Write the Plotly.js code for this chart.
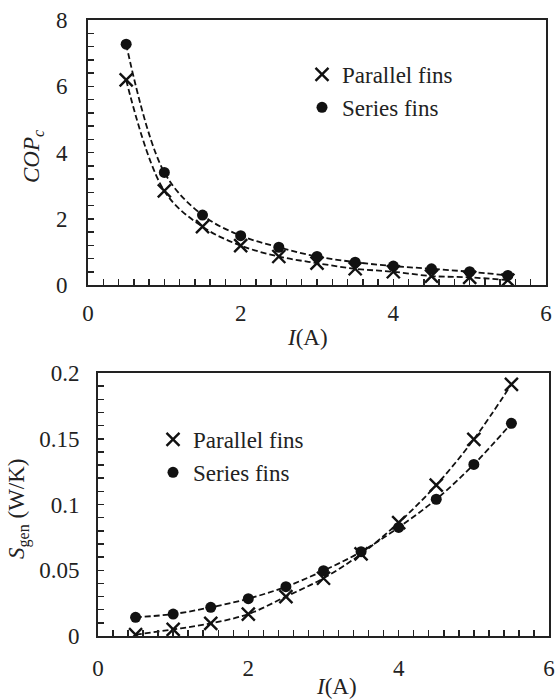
<!DOCTYPE html>
<html>
<head>
<meta charset="utf-8">
<script src="https://cdn.plot.ly/plotly-3.0.1.min.js"></script>
<style>html,body{margin:0;padding:0;background:#fff;}#chart{width:555px;height:699px;}</style>
</head>
<body>
<div id="chart"></div>
<script>
// Current (A)
var current = [0.5, 1, 1.5, 2, 2.5, 3, 3.5, 4, 4.5, 5, 5.5];
// COP_c
var copParallel = [6.19, 2.84, 1.76, 1.19, 0.86, 0.66, 0.49, 0.40, 0.27, 0.23, 0.15];
var copSeries   = [7.27, 3.40, 2.11, 1.49, 1.14, 0.86, 0.69, 0.57, 0.49, 0.40, 0.29];
// S_gen (W/K)
var sgenParallel = [0.001, 0.005, 0.0096, 0.0167, 0.030, 0.0439, 0.0624, 0.0862, 0.1148, 0.1496, 0.1914];
var sgenSeries   = [0.0142, 0.0167, 0.0218, 0.0284, 0.0375, 0.0497, 0.0641, 0.0826, 0.104, 0.1305, 0.1617];
var seriesNames = ['Parallel fins', 'Series fins'];
var axisTitles = ['<i>COP<sub>c</sub></i>', '<i>I</i>(A)', '<i>S</i><sub>gen</sub> (W/K)', '<i>I</i>(A)'];

var FONT = '"Liberation Serif", "Times New Roman", Times, serif';
var W = 555, H = 699;

function lineTrace(x, y, xa, ya) {
  return {x: x, y: y, xaxis: xa, yaxis: ya, mode: 'lines', showlegend: false, hoverinfo: 'skip',
    line: {color: '#111', width: 1.8, dash: '6px,3px', shape: 'spline', smoothing: 1}};
}
function markerTrace(x, y, xa, ya, name, sym, leg) {
  var m = sym === 'x'
    ? {symbol: 'x-thin', size: 13, color: '#111', line: {color: '#111', width: 2.4}}
    : {symbol: 'circle', size: 11, color: '#111'};
  return {x: x, y: y, xaxis: xa, yaxis: ya, mode: 'markers', name: name, marker: m, legend: leg};
}

var data = [
  lineTrace(current, copParallel, 'x', 'y'),
  lineTrace(current, copSeries, 'x', 'y'),
  markerTrace(current, copParallel, 'x', 'y', seriesNames[0], 'x', 'legend'),
  markerTrace(current, copSeries, 'x', 'y', seriesNames[1], 'o', 'legend'),
  lineTrace(current, sgenParallel, 'x2', 'y2'),
  lineTrace(current, sgenSeries, 'x2', 'y2'),
  markerTrace(current, sgenParallel, 'x2', 'y2', seriesNames[0], 'x', 'legend2'),
  markerTrace(current, sgenSeries, 'x2', 'y2', seriesNames[1], 'o', 'legend2')
];

var tf = {family: FONT, size: 23, color: '#222'};
function axBase(extra) {
  var a = {
    showgrid: false, zeroline: false, showline: true, mirror: true,
    linecolor: '#222', linewidth: 1.8,
    ticks: 'inside', ticklen: 6, tickwidth: 1.5, tickcolor: '#222',
    tickfont: tf, automargin: false, fixedrange: true
  };
  for (var k in extra) a[k] = extra[k];
  return a;
}
function minorTicks(d) {
  return {dtick: d, ticks: 'inside', ticklen: 6, tickwidth: 1.5, tickcolor: '#222'};
}
function ann(text, px, py, angle) {
  return {text: text, xref: 'paper', yref: 'paper', x: px / W, y: 1 - py / H,
    xanchor: 'center', yanchor: 'middle', showarrow: false, textangle: angle, font: tf};
}

var layout = {
  width: W, height: H,
  margin: {l: 0, r: 0, t: 0, b: 0},
  paper_bgcolor: '#fff', plot_bgcolor: '#fff',
  font: tf,
  xaxis: axBase({domain: [88/W, 546/W], anchor: 'y', range: [0, 6], dtick: 2, tick0: 0,
    minor: minorTicks(0.2), ticklabelstandoff: 7}),
  yaxis: axBase({domain: [1 - 285/H, 1 - 20/H], anchor: 'x', range: [0, 8], dtick: 2, tick0: 0,
    minor: minorTicks(0.4), ticklabelstandoff: 14}),
  xaxis2: axBase({domain: [98/W, 549/W], anchor: 'y2', range: [0, 6], dtick: 2, tick0: 0,
    minor: minorTicks(0.2), ticklabelstandoff: 11}),
  yaxis2: axBase({domain: [1 - 636/H, 1 - 373/H], anchor: 'x2', range: [0, 0.2], dtick: 0.05, tick0: 0,
    minor: minorTicks(0.01), ticklabelstandoff: 12}),
  annotations: [
    ann(axisTitles[0], 33, 157, -90),
    ann(axisTitles[1], 307, 337, 0),
    ann(axisTitles[2], 18, 509, -90),
    ann(axisTitles[3], 336, 686, 0)
  ],
  legend: {x: 310/W, y: 1 - 53/H, xanchor: 'left', yanchor: 'top', bgcolor: 'rgba(0,0,0,0)',
    font: tf, itemwidth: 30, indentation: -8, tracegroupgap: 0},
  legend2: {x: 161/W, y: 1 - 418/H, xanchor: 'left', yanchor: 'top', bgcolor: 'rgba(0,0,0,0)',
    font: tf, itemwidth: 30, indentation: -8, tracegroupgap: 0},
  showlegend: true
};

Plotly.newPlot('chart', data, layout, {displayModeBar: false, staticPlot: true});
</script>
</body>
</html>
